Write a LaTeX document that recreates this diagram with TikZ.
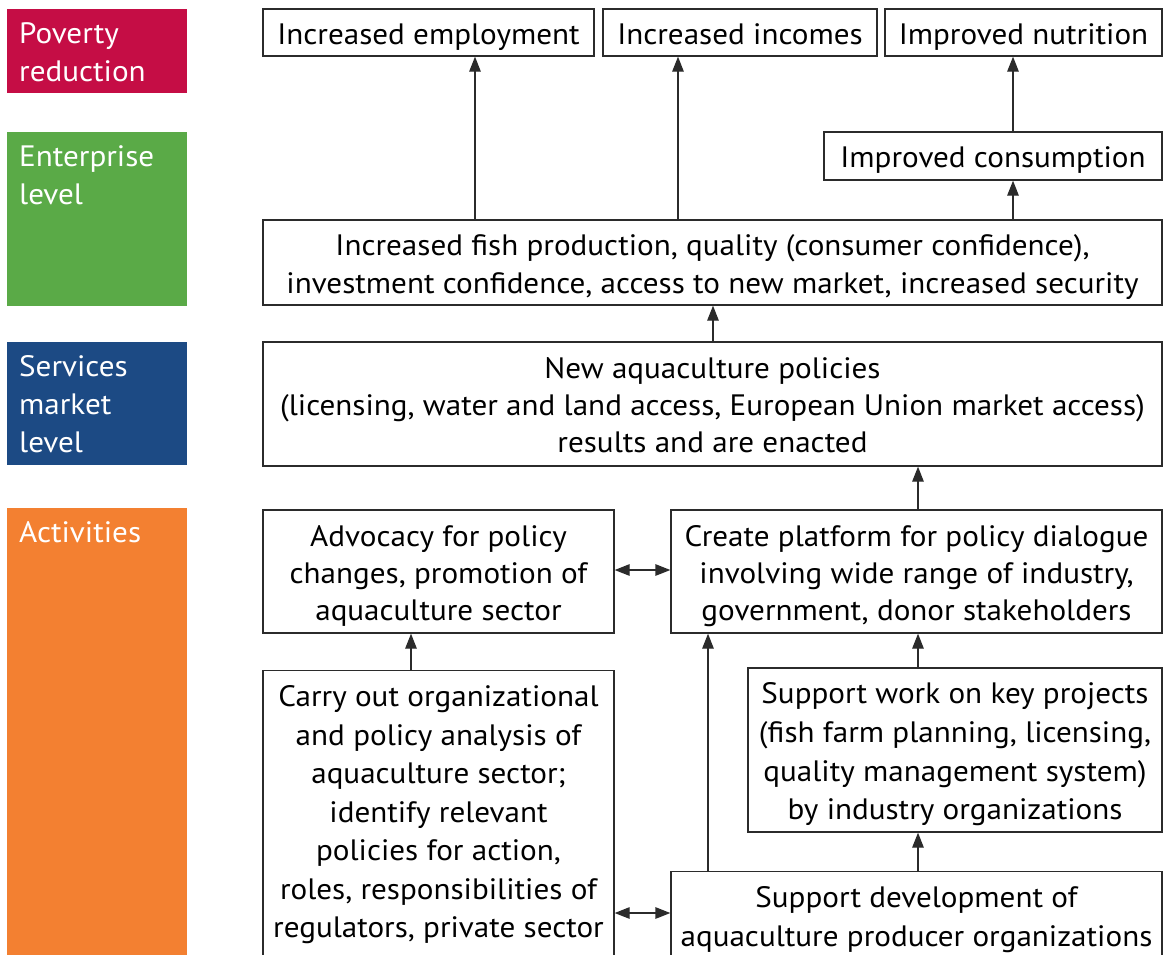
\documentclass[tikz,border=0pt]{standalone}
\usepackage{fontspec}
\setmainfont{PT Sans}[FakeStretch=1.055]
\usetikzlibrary{arrows.meta,calc}
\definecolor{povc}{HTML}{C50D45}
\definecolor{entc}{HTML}{5AAA47}
\definecolor{serc}{HTML}{1C4A84}
\definecolor{actc}{HTML}{F38031}
\definecolor{edgec}{HTML}{2B2B2B}
\newcommand{\firststrut}{\rule{0pt}{31pt}}
\newcommand{\laststrut}{\rule[-7.5pt]{0pt}{7.5pt}}
\tikzset{
  bandtext/.style={anchor=north west, text=white, align=left, inner sep=0pt,
    font=\fontsize{29.5}{38}\selectfont},
  box/.style={draw=edgec, line width=1.3pt, align=center, inner sep=0pt,
    font=\fontsize{29.5}{38}\selectfont},
  arr/.style={draw=edgec, line width=1.3pt, -{Triangle[length=15pt,width=11.5pt]}},
  darr/.style={draw=edgec, line width=1.3pt, {Triangle[length=15pt,width=11.5pt]}-{Triangle[length=15pt,width=11.5pt]}},
}
\begin{document}
\begin{tikzpicture}[x=1pt,y=-1pt]
\useasboundingbox (0,0) rectangle (1164,954);
\begin{scope}
\clip (0,0) rectangle (1164,954);
% bands
\fill[povc] (7,9) rectangle (187,93);
\fill[entc] (7,132) rectangle (187,306);
\fill[serc] (7,342) rectangle (187,465);
\fill[actc] (7,508) rectangle (187,960);
\node[bandtext] (lpov) at (19,22) {Poverty\\reduction};
\node[bandtext] (lent) at (19,145) {Enterprise\\level};
\node[bandtext] (lser) at (19,355) {Services\\market\\level};
\node[bandtext] (lact) at (19,521) {Activities};
% boxes
\node[box, minimum width=331, minimum height=47] (emp) at (428.5,32.5) {\firststrut Increased employment\laststrut};
\node[box, minimum width=274, minimum height=47] (inc) at (740,32.5) {\firststrut Increased incomes\laststrut};
\node[box, minimum width=277, minimum height=47] (nut) at (1023.5,32.5) {\firststrut Improved nutrition\laststrut};
\node[box, minimum width=338, minimum height=48] (cons) at (993,156) {\firststrut Improved consumption\laststrut};
\node[box, minimum width=899, minimum height=85] (fish) at (712.5,262.5) {\firststrut Increased fish production, quality (consumer confidence),\\investment confidence, access to new market, increased security\laststrut};
\node[box, minimum width=899, minimum height=124, font=\fontsize{29.5}{37}\selectfont] (pol) at (712.5,404) {\firststrut New aquaculture policies\\(licensing, water and land access, European Union market access)\\results and are enacted\laststrut};
\node[box, minimum width=351, minimum height=123, font=\fontsize{29.5}{37}\selectfont] (adv) at (438.5,571.5) {\firststrut Advocacy for policy\\changes, promotion of\\aquaculture sector\laststrut};
\node[box, minimum width=491, minimum height=123, font=\fontsize{29.5}{37}\selectfont] (plat) at (916.5,571.5) {\firststrut Create platform for policy dialogue\\involving wide range of industry,\\government, donor stakeholders\laststrut};
\node[box, minimum width=414, minimum height=164, font=\fontsize{29.5}{38.7}\selectfont] (work) at (955,750) {\firststrut Support work on key projects\\(fish farm planning, licensing,\\quality management system)\\by industry organizations\laststrut};
\node[box, minimum width=351, inner ysep=5pt, anchor=north, font=\fontsize{29.5}{38.5}\selectfont] (carry) at (438.5,670) {\firststrut Carry out organizational\\and policy analysis of\\aquaculture sector;\\identify relevant\\policies for action,\\roles, responsibilities of\\regulators, private sector\\ };
\node[box, minimum width=491, inner ysep=5pt, anchor=north, font=\fontsize{29.5}{38.5}\selectfont] (dev) at (916.5,871) {\firststrut Support development of\\aquaculture producer organizations\\ };
% connector x positions
\coordinate (c1) at (475,0);
\coordinate (c2) at (678,0);
\coordinate (c3) at (1013,0);
\coordinate (c4) at (713,0);
\coordinate (c5) at (918,0);
\coordinate (c6) at (411,0);
\coordinate (c7) at (708,0);
\coordinate (r1) at (0,570);
\coordinate (r2) at (0,913);
% connectors
\draw[arr] (fish.north -| c1) -- (emp.south -| c1);
\draw[arr] (fish.north -| c2) -- (inc.south -| c2);
\draw[arr] (fish.north -| c3) -- (cons.south -| c3);
\draw[arr] (cons.north -| c3) -- (nut.south -| c3);
\draw[arr] (pol.north -| c4) -- (fish.south -| c4);
\draw[arr] (plat.north -| c5) -- (pol.south -| c5);
\draw[darr] (adv.east |- r1) -- (plat.west |- r1);
\draw[arr] (carry.north -| c6) -- (adv.south -| c6);
\draw[arr] (work.north -| c5) -- (plat.south -| c5);
\draw[arr] (dev.north -| c7) -- (plat.south -| c7);
\draw[arr] (dev.north -| c5) -- (work.south -| c5);
\draw[darr] (carry.east |- r2) -- (dev.west |- r2);
\end{scope}
\end{tikzpicture}
\end{document}
